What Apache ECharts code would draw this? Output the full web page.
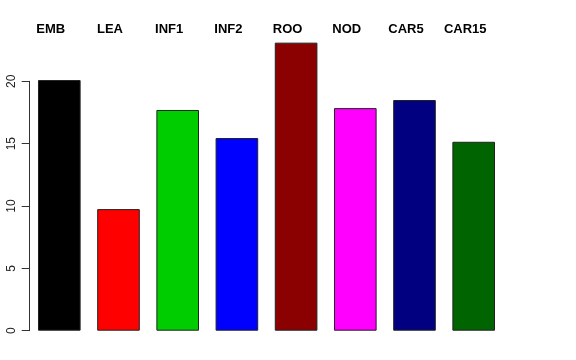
<!DOCTYPE html>
<html>
<head>
<meta charset="utf-8">
<script src="https://cdn.jsdelivr.net/npm/echarts@6/dist/echarts.min.js"></script>
<style>
html,body{margin:0;padding:0;background:#fff;}
#chart{width:576px;height:360px;}
</style>
</head>
<body>
<div id="chart"></div>
<script>
const categories = ["EMB","LEA","INF1","INF2","ROO","NOD","CAR5","CAR15"];
const values = [20.1, 9.75, 17.7, 15.45, 23.1, 17.85, 18.5, 15.15];
const barColors = ["#000000","#FF0000","#00CD00","#0000FF","#8B0000","#FF00FF","#000080","#006400"];
const yTicks = [0, 5, 10, 15, 20];

const chart = echarts.init(document.getElementById('chart'), null, {renderer:'canvas'});
chart.setOption({
  animation: false,
  backgroundColor: '#ffffff',
  grid: {left: 29.7, right: 72.7, top: 81.3, bottom: 29.3, containLabel: false},
  xAxis: [
    {type:'category', data: categories, position:'bottom',
     axisLine:{show:false}, axisTick:{show:false}, axisLabel:{show:false}},
    {type:'category', data: categories, position:'top',
     axisLine:{show:false}, axisTick:{show:false},
     axisLabel:{show:true, margin:45, fontFamily:'Liberation Sans, Arial, sans-serif',
       fontWeight:'bold', fontSize:13, color:'#000', padding:[0,17,0,0]}}
  ],
  yAxis: {
    type:'value', min: yTicks[0], max: yTicks[yTicks.length-1], interval: 5,
    axisLine:{show:true, lineStyle:{color:'#333', width:1}},
    axisTick:{show:true, length:8, lineStyle:{color:'#333'}},
    splitLine:{show:false},
    axisLabel:{rotate:90, margin:12, fontSize:12, color:'#222',
      fontFamily:'Liberation Sans, Arial, sans-serif'}
  },
  series: [{
    type:'bar', xAxisIndex:0, clip:false, barWidth:'72%',
    data: values.map((v,i)=>({value:v, itemStyle:{color:barColors[i]}})),
    itemStyle:{borderColor:'#222', borderWidth:1}
  }]
});
</script>
</body>
</html>
